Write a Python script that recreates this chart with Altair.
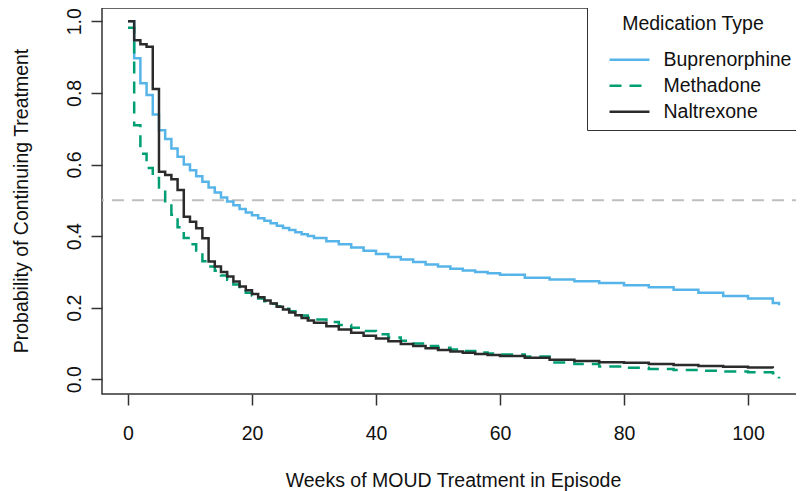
import altair as alt
import pandas as pd

series_names = ["Buprenorphine", "Methadone", "Naltrexone"]
series_colors = ["#56B4E9", "#009E73", "#2B2B2B"]

weeks_grid = list(range(0, 31)) + list(range(32, 61, 2)) + list(range(64, 105, 4))

bup_weeks = weeks_grid + [105]
bup_prob = [1.0, 0.897, 0.827, 0.794, 0.740, 0.696, 0.671, 0.645, 0.622, 0.600,
            0.584, 0.567, 0.552, 0.536, 0.522, 0.508, 0.497, 0.486, 0.476, 0.466,
            0.458, 0.450, 0.443, 0.436, 0.429, 0.423, 0.417, 0.411, 0.405, 0.400, 0.395,
            0.386, 0.377, 0.368, 0.359, 0.350, 0.342, 0.335, 0.328, 0.321, 0.315,
            0.309, 0.304, 0.300, 0.296, 0.292,
            0.284, 0.279, 0.274, 0.269, 0.263, 0.257, 0.250, 0.242, 0.233, 0.226, 0.213,
            0.207]

met_weeks = weeks_grid + [105]
met_prob = [0.982, 0.710, 0.630, 0.590, 0.562, 0.530, 0.490, 0.460, 0.425, 0.395,
            0.377, 0.360, 0.330, 0.315, 0.303, 0.290, 0.278, 0.265, 0.252, 0.242,
            0.234, 0.226, 0.218, 0.211, 0.204, 0.197, 0.190, 0.184, 0.178, 0.172, 0.167,
            0.160, 0.152, 0.144, 0.135, 0.126, 0.117, 0.108, 0.100, 0.093, 0.088,
            0.083, 0.079, 0.075, 0.072, 0.069,
            0.064, 0.047, 0.043, 0.036, 0.032, 0.029, 0.026, 0.024, 0.022, 0.020, 0.017,
            0.002]

nal_weeks = weeks_grid
nal_prob = [1.0, 0.947, 0.936, 0.929, 0.811, 0.580, 0.571, 0.559, 0.529, 0.454,
            0.440, 0.422, 0.394, 0.329, 0.315, 0.300, 0.287, 0.273, 0.259, 0.249,
            0.238, 0.229, 0.220, 0.212, 0.203, 0.195, 0.187, 0.179, 0.171, 0.164, 0.158,
            0.148, 0.139, 0.130, 0.122, 0.114, 0.106, 0.099, 0.093, 0.087, 0.082,
            0.078, 0.074, 0.071, 0.068, 0.065,
            0.060, 0.055, 0.051, 0.048, 0.046, 0.043, 0.040, 0.037, 0.035, 0.033, 0.031]

reference_level = [0.5]
x_ticks = [0, 20, 40, 60, 80, 100]
y_ticks = [0.0, 0.2, 0.4, 0.6, 0.8, 1.0]

rows = []
for name, wk, pr in [(series_names[0], bup_weeks, bup_prob),
                     (series_names[1], met_weeks, met_prob),
                     (series_names[2], nal_weeks, nal_prob)]:
    for w, p in zip(wk, pr):
        rows.append({"week": w, "prob": p, "Medication": name})
df = pd.DataFrame(rows)
ref_df = pd.DataFrame({"level": reference_level})

FONT = "Liberation Sans"
x_scale = alt.Scale(domain=[-4.19, 109.03], nice=False, zero=False)
y_scale = alt.Scale(domain=[-0.041, 1.0372], nice=False, zero=False)

rule = alt.Chart(ref_df).mark_rule(color="#BEBEBE", strokeWidth=2, strokeDash=[12, 8]).encode(
    y=alt.Y("level:Q", scale=y_scale)
)

lines = alt.Chart(df).mark_line(interpolate="step-after", strokeWidth=2.5, strokeJoin="miter").encode(
    x=alt.X("week:Q", scale=x_scale,
            axis=alt.Axis(values=x_ticks, labelBaseline="alphabetic", labelPadding=34,
                          labelFlush=False, labelOverlap=False,
                          title="Weeks of MOUD Treatment in Episode",
                          titleX=351, titleY=92.7, titleAlign="center",
                          titleBaseline="alphabetic")),
    y=alt.Y("prob:Q", scale=y_scale,
            axis=alt.Axis(values=y_ticks, format=".1f", labelAngle=270, labelAlign="center",
                          labelBaseline="alphabetic", labelPadding=11,
                          labelOverlap=False, labelFlush=False,
                          title="Probability of Continuing Treatment",
                          titleAngle=270, titleX=-75, titleY=192.5, titleAlign="center",
                          titleBaseline="alphabetic")),
    color=alt.Color("Medication:N",
                    scale=alt.Scale(domain=series_names, range=series_colors),
                    legend=alt.Legend(title="Medication Type")),
    strokeDash=alt.StrokeDash("Medication:N",
                              scale=alt.Scale(domain=series_names, range=[[1, 0], [12, 8], [1, 0]]),
                              legend=alt.Legend(title="Medication Type")),
)

chart = alt.layer(rule, lines).properties(
    width=702, height=386,
    autosize=alt.AutoSizeParams(type="none"),
    padding={"left": 94, "top": 0, "right": -8, "bottom": 98},
    background="white",
).configure_view(
    stroke="#333333", strokeWidth=1.5
).configure_axis(
    domain=False, grid=False, ticks=True, tickColor="#333333", tickWidth=1.5, tickSize=11,
    labelFont=FONT, labelFontSize=19.5, labelColor="#111111",
    titleFont=FONT, titleFontSize=19.5, titleFontWeight="normal", titleColor="#111111",
).configure_legend(
    orient="none", legendX=485, legendY=-1,
    strokeColor="#333333", fillColor="white", padding=8,
    symbolType="M-1.333,0H1.333", symbolSize=900, symbolStrokeWidth=2.5, symbolOffset=18,
    labelOffset=17.5, labelFont=FONT, labelFontSize=19.5, labelColor="#111111",
    titleFont=FONT, titleFontSize=19.5, titleFontWeight="normal", titleColor="#111111",
    titleAnchor="middle", titlePadding=8.8, rowPadding=-6,
)

chart.save("out.html", embed_options={"renderer": "svg", "actions": False})
